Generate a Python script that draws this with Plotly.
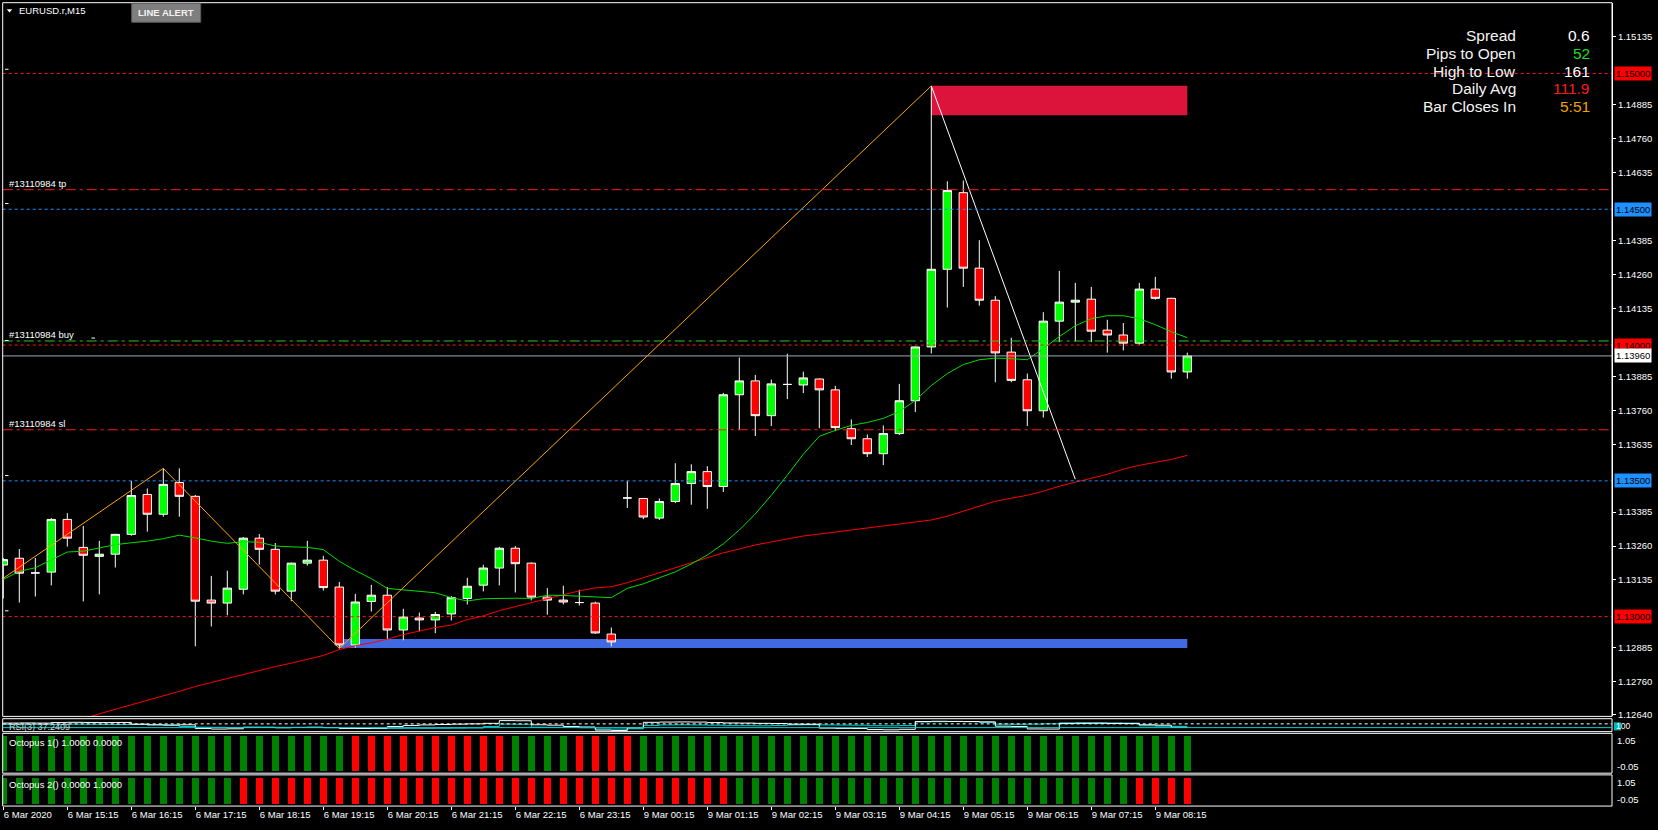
import plotly.graph_objects as go

W, H = 1658, 830

# ---------------- data ----------------
bar_index = list(range(75))   # 6 Mar 14:15 ... 9 Mar 08:45 (M15)

open_ = [1.13190, 1.13215, 1.13161, 1.13164, 1.13358, 1.13255, 1.13222, 1.13230, 1.13303, 1.13450,
         1.13377, 1.13494, 1.13443, 1.13061, 1.13050, 1.13101, 1.13289, 1.13248, 1.13094, 1.13197,
         1.13208, 1.13109, 1.12896, 1.13056, 1.13079, 1.12951, 1.12995, 1.12988, 1.13010, 1.13067,
         1.13116, 1.13179, 1.13252, 1.13197, 1.13072, 1.13061, 1.13052, 1.13050, 1.12936, 1.13437,
         1.13435, 1.13363, 1.13424, 1.13490, 1.13534, 1.13479, 1.13817, 1.13868, 1.13740, 1.13855,
         1.13853, 1.13875, 1.13835, 1.13692, 1.13655, 1.13600, 1.13674, 1.13795, 1.13993, 1.14279,
         1.14561, 1.14283, 1.14165, 1.13974, 1.13872, 1.13758, 1.14088, 1.14158, 1.14169, 1.14055,
         1.14037, 1.14007, 1.14206, 1.14172, 1.13901]
high = [1.13216, 1.13249, 1.13216, 1.13363, 1.13381, 1.13334, 1.13279, 1.13305, 1.13500, 1.13472,
        1.13546, 1.13546, 1.13448, 1.13150, 1.13169, 1.13293, 1.13304, 1.13271, 1.13199, 1.13279,
        1.13224, 1.13128, 1.13084, 1.13117, 1.13109, 1.13029, 1.13015, 1.13018, 1.13076, 1.13143,
        1.13191, 1.13257, 1.13260, 1.13200, 1.13105, 1.13114, 1.13099, 1.13055, 1.12960, 1.13500,
        1.13437, 1.13435, 1.13565, 1.13561, 1.13554, 1.13824, 1.13954, 1.13890, 1.13873, 1.13968,
        1.13902, 1.13877, 1.13850, 1.13726, 1.13671, 1.13704, 1.13857, 1.13995, 1.14954, 1.14603,
        1.14606, 1.14386, 1.14180, 1.14027, 1.13895, 1.14121, 1.14273, 1.14229, 1.14214, 1.14093,
        1.14081, 1.14229, 1.14251, 1.14174, 1.13972]
low = [1.13067, 1.13052, 1.13074, 1.13115, 1.13258, 1.13056, 1.13082, 1.13181, 1.13298, 1.13313,
       1.13368, 1.13368, 1.12891, 1.12964, 1.13005, 1.13082, 1.13192, 1.13082, 1.13057, 1.13188,
       1.13096, 1.12883, 1.12886, 1.13019, 1.12917, 1.12913, 1.12946, 1.12939, 1.12986, 1.13045,
       1.13093, 1.13115, 1.13089, 1.13060, 1.13007, 1.13045, 1.13041, 1.12937, 1.12891, 1.13400,
       1.13359, 1.13356, 1.13418, 1.13412, 1.13397, 1.13459, 1.13687, 1.13665, 1.13702, 1.13801,
       1.13823, 1.13694, 1.13683, 1.13632, 1.13588, 1.13558, 1.13669, 1.13753, 1.13969, 1.14138,
       1.14214, 1.14145, 1.13863, 1.13863, 1.13702, 1.13733, 1.14011, 1.14013, 1.14011, 1.13972,
       1.13980, 1.14001, 1.14167, 1.13876, 1.13876]
close = [1.13210, 1.13160, 1.13161, 1.13358, 1.13289, 1.13226, 1.13230, 1.13303, 1.13446, 1.13377,
         1.13487, 1.13443, 1.13057, 1.13050, 1.13105, 1.13289, 1.13248, 1.13094, 1.13197, 1.13208,
         1.13107, 1.12896, 1.13054, 1.13079, 1.12951, 1.12999, 1.12988, 1.13008, 1.13070, 1.13112,
         1.13179, 1.13252, 1.13195, 1.13072, 1.13061, 1.13054, 1.13052, 1.12940, 1.12907, 1.13437,
         1.13367, 1.13424, 1.13490, 1.13534, 1.13479, 1.13817, 1.13868, 1.13740, 1.13857, 1.13855,
         1.13879, 1.13835, 1.13696, 1.13655, 1.13600, 1.13674, 1.13795, 1.13993, 1.14279, 1.14569,
         1.14283, 1.14165, 1.13971, 1.13870, 1.13758, 1.14088, 1.14158, 1.14165, 1.14051, 1.14037,
         1.14007, 1.14206, 1.14172, 1.13901, 1.13960]

ma_fast = [1.13137, 1.13167, 1.13180, 1.13210, 1.13238, 1.13241, 1.13252, 1.13265, 1.13272, 1.13278,
           1.13287, 1.13300, 1.13290, 1.13278, 1.13270, 1.13276, 1.13274, 1.13260, 1.13257, 1.13255,
           1.13247, 1.13204, 1.13170, 1.13140, 1.13104, 1.13099, 1.13094, 1.13088, 1.13070, 1.13058,
           1.13066, 1.13068, 1.13068, 1.13067, 1.13079, 1.13078, 1.13076, 1.13074, 1.13070, 1.13104,
           1.13121, 1.13143, 1.13165, 1.13194, 1.13227, 1.13268, 1.13319, 1.13378, 1.13447, 1.13521,
           1.13598, 1.13664, 1.13686, 1.13704, 1.13715, 1.13730, 1.13755, 1.13796, 1.13851, 1.13895,
           1.13928, 1.13946, 1.13952, 1.13950, 1.13946, 1.13987, 1.14031, 1.14071, 1.14097, 1.14108,
           1.14108, 1.14097, 1.14075, 1.14049, 1.14027]
ma_slow = [1.12534, 1.12552, 1.12571, 1.12589, 1.12607, 1.12626, 1.12642, 1.12659, 1.12675, 1.12692,
           1.12708, 1.12725, 1.12743, 1.12758, 1.12772, 1.12787, 1.12802, 1.12816, 1.12829, 1.12842,
           1.12857, 1.12879, 1.12893, 1.12904, 1.12917, 1.12934, 1.12948, 1.12960, 1.12969, 1.12989,
           1.13003, 1.13022, 1.13037, 1.13051, 1.13066, 1.13081, 1.13095, 1.13106, 1.13110, 1.13125,
           1.13143, 1.13161, 1.13180, 1.13198, 1.13216, 1.13235, 1.13249, 1.13264, 1.13275, 1.13286,
           1.13297, 1.13304, 1.13312, 1.13319, 1.13326, 1.13334, 1.13341, 1.13348, 1.13356, 1.13370,
           1.13389, 1.13407, 1.13425, 1.13436, 1.13447, 1.13462, 1.13480, 1.13495, 1.13510, 1.13524,
           1.13543, 1.13557, 1.13568, 1.13579, 1.13594]

zigzag_bars = [-1, 10, 21, 58]
zigzag_prices = [1.13101, 1.13546, 1.12883, 1.14954]
trend_bars = [58, 67]
trend_prices = [1.14954, 1.13506]

supply_zone_bars = [58, 74]
supply_zone_prices = [1.14846, 1.14955]
demand_zone_bars = [21, 74]
demand_zone_prices = [1.12885, 1.12918]

level_prices = [1.15000, 1.14572, 1.14500, 1.14015, 1.14000, 1.13960, 1.13688, 1.13500, 1.13000]
level_names = ["", "#13110984 tp", "", "#13110984 buy", "", "", "#13110984 sl", "", ""]
level_tags = ["1.15000", "", "1.14500", "", "1.14000", "1.13960", "", "1.13500", "1.13000"]

price_ticks = [1.15135, 1.14885, 1.14760, 1.14635, 1.14385, 1.14260, 1.14135, 1.13885,
               1.13760, 1.13635, 1.13385, 1.13260, 1.13135, 1.12885, 1.12760, 1.12640]
price_tick_labels = ["1.15135", "1.14885", "1.14760", "1.14635", "1.14385", "1.14260", "1.14135", "1.13885",
                     "1.13760", "1.13635", "1.13385", "1.13260", "1.13135", "1.12885", "1.12760", "1.12640"]

time_tick_bars = [0, 4, 8, 12, 16, 20, 24, 28, 32, 36, 40, 44, 48, 52, 56, 60, 64, 68, 72]
time_tick_labels = ["6 Mar 2020", "6 Mar 15:15", "6 Mar 16:15", "6 Mar 17:15", "6 Mar 18:15",
                    "6 Mar 19:15", "6 Mar 20:15", "6 Mar 21:15", "6 Mar 22:15", "6 Mar 23:15",
                    "9 Mar 00:15", "9 Mar 01:15", "9 Mar 02:15", "9 Mar 03:15", "9 Mar 04:15",
                    "9 Mar 05:15", "9 Mar 06:15", "9 Mar 07:15", "9 Mar 08:15"]

info_labels = ["Spread", "Pips to Open", "High to Low", "Daily Avg", "Bar Closes In"]
info_values = ["0.6", "52", "161", "111.9", "5:51"]

rsi_main = [66, 67, 66, 70, 72, 71, 70, 71, 58, 52,
            50, 53, 24, 20, 22, 34, 33, 30, 33, 34,
            32, 25, 24, 27, 40, 48, 52, 55, 58, 60,
            64, 85, 84, 53, 50, 40, 36, 12, 9, 30,
            72, 74, 75, 74, 70, 67, 66, 64, 63, 58,
            57, 27, 25, 24, 16, 14, 18, 78, 80, 79,
            78, 76, 42, 40, 21, 20, 62, 64, 65, 63,
            62, 53, 50, 33, 34]
rsi_signal = [56, 57, 56, 56, 58, 57, 56, 55, 55, 54,
              52, 40, 34, 33, 32, 33, 34, 33, 32, 33,
              30, 26, 25, 24, 25, 26, 25, 26, 27, 28,
              40, 58, 57, 34, 33, 32, 30, 21, 20, 22,
              48, 52, 53, 52, 50, 46, 46, 45, 47, 52,
              53, 52, 51, 50, 46, 45, 47, 75, 77, 78,
              77, 70, 58, 57, 58, 60, 68, 69, 68, 67,
              66, 45, 42, 41, 40]
rsi_levels = [60, 31]

octopus1 = list("GGGGGGGGGG" "GGGGGGGGGG" "GG"
                "RRRRRRRRRR"
                "GGGG"
                "RRRR"
                "GGGGGGGGGG" "GGGGGGGGGG" "GGGGGGGGGG" "GGGGG")
octopus2 = list("GGGGGGGGGG" "GGGGG"
                "RRRRRRRRRR" "RRRRRRRRRR" "RRRRRRRRRR" "R"
                "GGGGGGGGGG" "GGGGGGGGGG" "GGGGG"
                "RRRR")

# ---------------- layout helpers ----------------
def px(x):
    return x / W

def py(y):
    return 1 - y / H

FONT = "Liberation Sans"
X_LEFT, X_RIGHT = 2.7, 1612
MAIN_TOP, MAIN_BOT = 2.7, 719
RSI_TOP, RSI_BOT = 721.3, 734.3
O1_TOP, O1_BOT = 736, 776
O2_TOP, O2_BOT = 777.7, 809
BAR_PX = 16.0
BAR0_X = 3.3
PRICE_REF, PRICE_REF_Y, PX_PER_UNIT = 1.15, 73.7, 27260.0

def price_at(y):
    return PRICE_REF - (y - PRICE_REF_Y) / PX_PER_UNIT

x_range = [(X_LEFT - BAR0_X) / BAR_PX, (X_RIGHT - BAR0_X) / BAR_PX]

GREEN_BAR, RED_BAR = "#008000", "#ff0000"

fig = go.Figure()

fig.add_trace(go.Candlestick(
    x=bar_index, open=open_, high=high, low=low, close=close,
    increasing=dict(line=dict(color="white", width=1), fillcolor="#00ff00"),
    decreasing=dict(line=dict(color="white", width=1), fillcolor="#ff0000"),
    whiskerwidth=0, hoverinfo="skip", showlegend=False, xaxis="x", yaxis="y"))

fig.add_trace(go.Scatter(x=bar_index, y=ma_slow, mode="lines",
                         line=dict(color="#ff0000", width=1), hoverinfo="skip",
                         showlegend=False, xaxis="x", yaxis="y"))
fig.add_trace(go.Scatter(x=bar_index, y=ma_fast, mode="lines",
                         line=dict(color="#00dd00", width=1), hoverinfo="skip",
                         showlegend=False, xaxis="x", yaxis="y"))
fig.add_trace(go.Scatter(x=zigzag_bars, y=zigzag_prices, mode="lines",
                         line=dict(color="#ffa500", width=1), hoverinfo="skip",
                         showlegend=False, xaxis="x", yaxis="y"))
fig.add_trace(go.Scatter(x=trend_bars, y=trend_prices, mode="lines",
                         line=dict(color="white", width=1), hoverinfo="skip",
                         showlegend=False, xaxis="x", yaxis="y"))

# RSI panel
fig.add_trace(go.Scatter(x=bar_index, y=rsi_signal, mode="lines",
                         line=dict(color="#00d0d0", width=1, shape="hv"), hoverinfo="skip",
                         showlegend=False, xaxis="x", yaxis="y2"))
fig.add_trace(go.Scatter(x=bar_index, y=rsi_main, mode="lines",
                         line=dict(color="white", width=1, shape="hv"), hoverinfo="skip",
                         showlegend=False, xaxis="x", yaxis="y2"))

# Octopus panels
for states, yax in ((octopus1, "y3"), (octopus2, "y4")):
    fig.add_trace(go.Bar(
        x=bar_index, y=[1.0 for _ in states], width=0.42,
        marker=dict(color=[GREEN_BAR if s == "G" else RED_BAR for s in states], line=dict(width=0)),
        hoverinfo="skip", showlegend=False, xaxis="x", yaxis=yax))

shapes = []
annotations = []

# zones
shapes.append(dict(type="rect", xref="x", yref="y",
                   x0=supply_zone_bars[0], x1=supply_zone_bars[1],
                   y0=supply_zone_prices[0], y1=supply_zone_prices[1],
                   fillcolor="#dc143c", line=dict(width=0), layer="below"))
shapes.append(dict(type="rect", xref="x", yref="y",
                   x0=demand_zone_bars[0], x1=demand_zone_bars[1],
                   y0=demand_zone_prices[0], y1=demand_zone_prices[1],
                   fillcolor="#4169e1", line=dict(width=0), layer="below"))

# horizontal levels
level_styles = [
    ("#ff1a1a", "3px,3px", "#ff0000"),
    ("#ff1a1a", "10px,4px,3px,4px", None),
    ("#1e90ff", "3px,3px", "#1e90ff"),
    ("#22cc22", "10px,4px,3px,4px", None),
    ("#ff1a1a", "3px,3px", "#ff0000"),
    ("#a0a8b4", "solid", "#ffffff"),
    ("#ff1a1a", "10px,4px,3px,4px", None),
    ("#1e90ff", "3px,3px", "#1e90ff"),
    ("#ff1a1a", "3px,3px", "#ff0000"),
]
for p, name, tag, (col, dash, box) in zip(level_prices, level_names, level_tags, level_styles):
    shapes.append(dict(type="line", xref="paper", yref="y", x0=px(X_LEFT), x1=px(X_RIGHT),
                       y0=p, y1=p, line=dict(color=col, width=1, dash=dash), layer="above"))
    if name:
        annotations.append(dict(xref="paper", yref="y", x=px(8), y=p, xanchor="left",
                                yanchor="bottom", text=name, showarrow=False,
                                font=dict(family=FONT, size=9.5, color="white"), borderpad=0))
    if tag:
        annotations.append(dict(xref="paper", yref="y", x=px(1614), y=p, xanchor="left",
                                yanchor="middle", text=tag, showarrow=False, bgcolor=box,
                                font=dict(family=FONT, size=9.5, color="black"), borderpad=1))

# small white markers
for (x0, yv) in [(5, 69.5), (5, 204.3), (5, 341.7), (91.5, 339.3), (5, 477.3), (5, 613)]:
    shapes.append(dict(type="line", xref="paper", yref="paper", x0=px(x0), x1=px(x0 + 3.5),
                       y0=py(yv), y1=py(yv), line=dict(color="white", width=1)))

# panel frames
for top, bot in ((MAIN_TOP, MAIN_BOT), (RSI_TOP, RSI_BOT), (O1_TOP, O1_BOT), (O2_TOP, O2_BOT)):
    shapes.append(dict(type="rect", xref="paper", yref="paper", x0=px(X_LEFT), x1=px(X_RIGHT),
                       y0=py(bot), y1=py(top), line=dict(color="white", width=1),
                       fillcolor="rgba(0,0,0,0)", layer="above"))

# RSI levels
shapes.append(dict(type="line", xref="paper", yref="y2", x0=px(X_LEFT), x1=px(X_RIGHT),
                   y0=rsi_levels[0], y1=rsi_levels[0], line=dict(color="white", width=1, dash="3px,3px")))
shapes.append(dict(type="line", xref="paper", yref="y2", x0=px(X_LEFT), x1=px(X_RIGHT),
                   y0=rsi_levels[1], y1=rsi_levels[1], line=dict(color="#00d0d0", width=1)))
shapes.append(dict(type="rect", xref="paper", yref="paper", x0=px(1614), x1=px(1621),
                   y0=py(733), y1=py(725), fillcolor="#00b8b8", line=dict(width=0)))
annotations.append(dict(xref="paper", yref="paper", x=px(1614), y=py(728.5), xanchor="left",
                        yanchor="middle", text="100", showarrow=False,
                        font=dict(family=FONT, size=8.5, color="white")))

# top-left header
shapes.append(dict(type="path", xref="paper", yref="paper",
                   path=f"M {px(6.7)},{py(9.3)} L {px(12.3)},{py(9.3)} L {px(9.5)},{py(12.6)} Z",
                   fillcolor="white", line=dict(width=0)))
annotations.append(dict(xref="paper", yref="paper", x=px(17), y=py(11), xanchor="left",
                        yanchor="middle", text="EURUSD.r,M15", showarrow=False,
                        font=dict(family=FONT, size=9.5, color="white")))
shapes.append(dict(type="rect", xref="paper", yref="paper", x0=px(131.7), x1=px(200.7),
                   y0=py(22.3), y1=py(3.3), fillcolor="#7f7f7f", line=dict(color="#5a5a5a", width=1)))
annotations.append(dict(xref="paper", yref="paper", x=px(166.2), y=py(13), xanchor="center",
                        yanchor="middle", text="<b>LINE ALERT</b>", showarrow=False,
                        font=dict(family=FONT, size=9.5, color="#f2f2f2")))

# info panel
info_colors = ["white", "#22dd22", "white", "#ff1a1a", "#f0a000"]
for i, (lab, val, col) in enumerate(zip(info_labels, info_values, info_colors)):
    yy = 35.3 + i * 18.0
    annotations.append(dict(xref="paper", yref="paper", x=px(1518), y=py(yy), xanchor="right",
                            yanchor="middle", text=lab, showarrow=False,
                            font=dict(family=FONT, size=15.5, color="#f4f4f4")))
    annotations.append(dict(xref="paper", yref="paper", x=px(1592), y=py(yy), xanchor="right",
                            yanchor="middle", text=val, showarrow=False,
                            font=dict(family=FONT, size=15.5, color=col)))

# indicator labels
annotations.append(dict(xref="paper", yref="paper", x=px(6.5), y=py(729.5), xanchor="left",
                        yanchor="middle", text="RSI(3) 37.2409", showarrow=False,
                        font=dict(family=FONT, size=9, color="#d8d8d8")))
annotations.append(dict(xref="paper", yref="paper", x=px(6.5), y=py(745.5), xanchor="left",
                        yanchor="middle", text="Octopus 1() 1.0000 0.0000", showarrow=False,
                        font=dict(family=FONT, size=9.5, color="white")))
annotations.append(dict(xref="paper", yref="paper", x=px(6.5), y=py(787.8), xanchor="left",
                        yanchor="middle", text="Octopus 2() 0.0000 1.0000", showarrow=False,
                        font=dict(family=FONT, size=9.5, color="white")))
for txt, yy in (("1.05", 743.5), ("-0.05", 769.5), ("1.05", 785.7), ("-0.05", 802.7)):
    annotations.append(dict(xref="paper", yref="paper", x=px(1615), y=py(yy), xanchor="left",
                            yanchor="middle", text=txt, showarrow=False,
                            font=dict(family=FONT, size=9.5, color="white")))

o1_unit = (O1_BOT - O1_TOP) - 5.3
o2_unit = (O2_BOT - O2_TOP) - 5.0

fig.update_layout(
    width=W, height=H,
    margin=dict(l=0, r=0, t=0, b=0),
    paper_bgcolor="black", plot_bgcolor="black",
    showlegend=False, boxgap=0.25, bargap=0,
    shapes=shapes, annotations=annotations,
    xaxis=dict(domain=[px(X_LEFT), px(X_RIGHT)], range=x_range, anchor="y4",
               showgrid=False, zeroline=False, showline=False,
               tickmode="array", tickvals=time_tick_bars, ticktext=time_tick_labels,
               ticks="outside", ticklen=3, tickcolor="white", tickwidth=1,
               ticklabelposition="outside right",
               tickfont=dict(family=FONT, size=9.5, color="white"),
               rangeslider=dict(visible=False), fixedrange=True),
    yaxis=dict(domain=[py(MAIN_BOT), py(MAIN_TOP)],
               range=[price_at(MAIN_BOT), price_at(MAIN_TOP)], side="right", anchor="x",
               showgrid=False, zeroline=False, showline=True, linecolor="white", linewidth=1,
               tickmode="array", tickvals=price_ticks, ticktext=price_tick_labels,
               ticks="outside", ticklen=3, tickcolor="white",
               tickfont=dict(family=FONT, size=9.5, color="white"), fixedrange=True),
    yaxis2=dict(domain=[py(RSI_BOT), py(RSI_TOP)], range=[0, 100], anchor="x",
                showgrid=False, zeroline=False, showticklabels=False, fixedrange=True),
    yaxis3=dict(domain=[py(O1_BOT), py(O1_TOP)],
                range=[-2.3 / o1_unit * 1.0, 1 + 3.0 / o1_unit], anchor="x",
                showgrid=False, zeroline=False, showticklabels=False, fixedrange=True),
    yaxis4=dict(domain=[py(O2_BOT), py(O2_TOP)],
                range=[-2.0 / o2_unit, 1 + 3.0 / o2_unit], anchor="x",
                showgrid=False, zeroline=False, showticklabels=False, fixedrange=True),
)

fig.write_html("out.html", config={"displayModeBar": False},
               post_script="document.body.style.margin='0px';document.body.style.overflow='hidden';"
                           "document.body.style.background='black';")
